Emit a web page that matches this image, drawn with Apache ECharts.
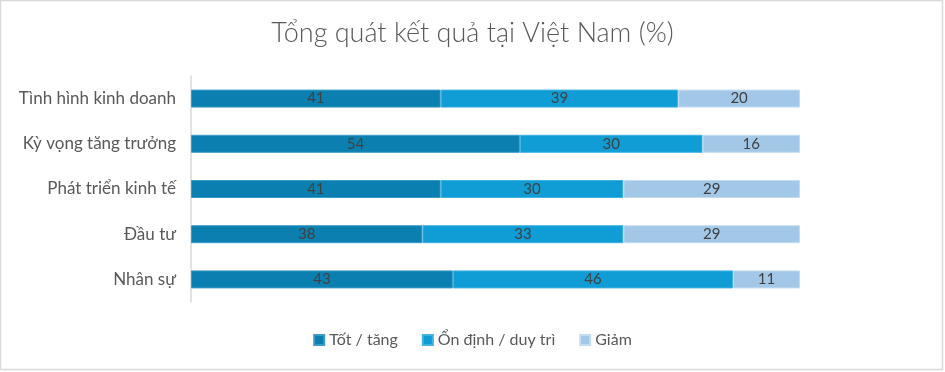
<!DOCTYPE html>
<html lang="vi">
<head>
    <meta charset="UTF-8">
    <title>Tổng quát kết quả tại Việt Nam</title>
    <script src="https://cdn.jsdelivr.net/npm/echarts@6/dist/echarts.min.js"></script>
    <style>
        body { margin: 0; background: #fff; }
        #chart { width: 945px; height: 372px; }
    </style>
</head>
<body>
    <div id="chart"></div>
    <script>
        // du lieu
        var categories = ["Tình hình kinh doanh", "Kỳ vọng tăng trưởng", "Phát triển kinh tế", "Đầu tư", "Nhân sự"];
        var seriesNames = ["Tốt / tăng", "Ổn định / duy trì", "Giảm"];
        var totTang = [41, 54, 41, 38, 43];
        var onDinh = [39, 30, 30, 33, 46];
        var giam = [20, 16, 29, 29, 11];
        var colors = ["#0b80b0", "#109dd6", "#a3c8e7"];
        var borders = ["#3a9cc6", "#3fb2e0", "#c3dcf0"];

        var mChart = echarts.init(document.getElementById('chart'));
        var font = "Lato, 'Open Sans', sans-serif";

        var seriesArr = [totTang, onDinh, giam].map(function (vals, i) {
            return {
                name: seriesNames[i],
                type: 'bar',
                stack: 'all',
                barWidth: 18,
                data: vals,
                itemStyle: { color: colors[i], borderColor: borders[i], borderWidth: 1 },
                label: {
                    show: true,
                    position: 'inside',
                    color: '#404040',
                    fontSize: 15,
                    fontFamily: font
                },
                emphasis: { disabled: true }
            };
        });

        var option = {
            backgroundColor: '#fff',
            animation: false,
            textStyle: { fontFamily: font },
            title: {
                text: 'Tổng quát kết quả tại Việt Nam (%)',
                left: 'center',
                top: 15,
                textStyle: { fontSize: 27, fontWeight: 300, color: '#595959', fontFamily: font }
            },
            graphic: [{
                type: 'rect',
                shape: { x: 0.5, y: 0.5, width: 942, height: 369 },
                style: { fill: null, stroke: '#d9d9d9', lineWidth: 1.5 },
                silent: true
            }],
            legend: {
                bottom: 19,
                left: 'center',
                itemWidth: 10,
                itemHeight: 10,
                itemGap: 24,
                icon: 'rect',
                textStyle: { fontSize: 16, color: '#595959', fontFamily: font },
                data: seriesNames
            },
            grid: { left: 191, right: 145, top: 76, bottom: 70 },
            xAxis: {
                type: 'value',
                min: 0,
                max: 100,
                show: false
            },
            yAxis: {
                type: 'category',
                inverse: true,
                data: categories,
                axisLine: { show: true, lineStyle: { color: '#d9d9d9', width: 1.5 } },
                axisTick: { show: false },
                axisLabel: { fontSize: 17, color: '#595959', margin: 15, fontFamily: font }
            },
            series: seriesArr
        };

        mChart.setOption(option);
    </script>
</body>
</html>
